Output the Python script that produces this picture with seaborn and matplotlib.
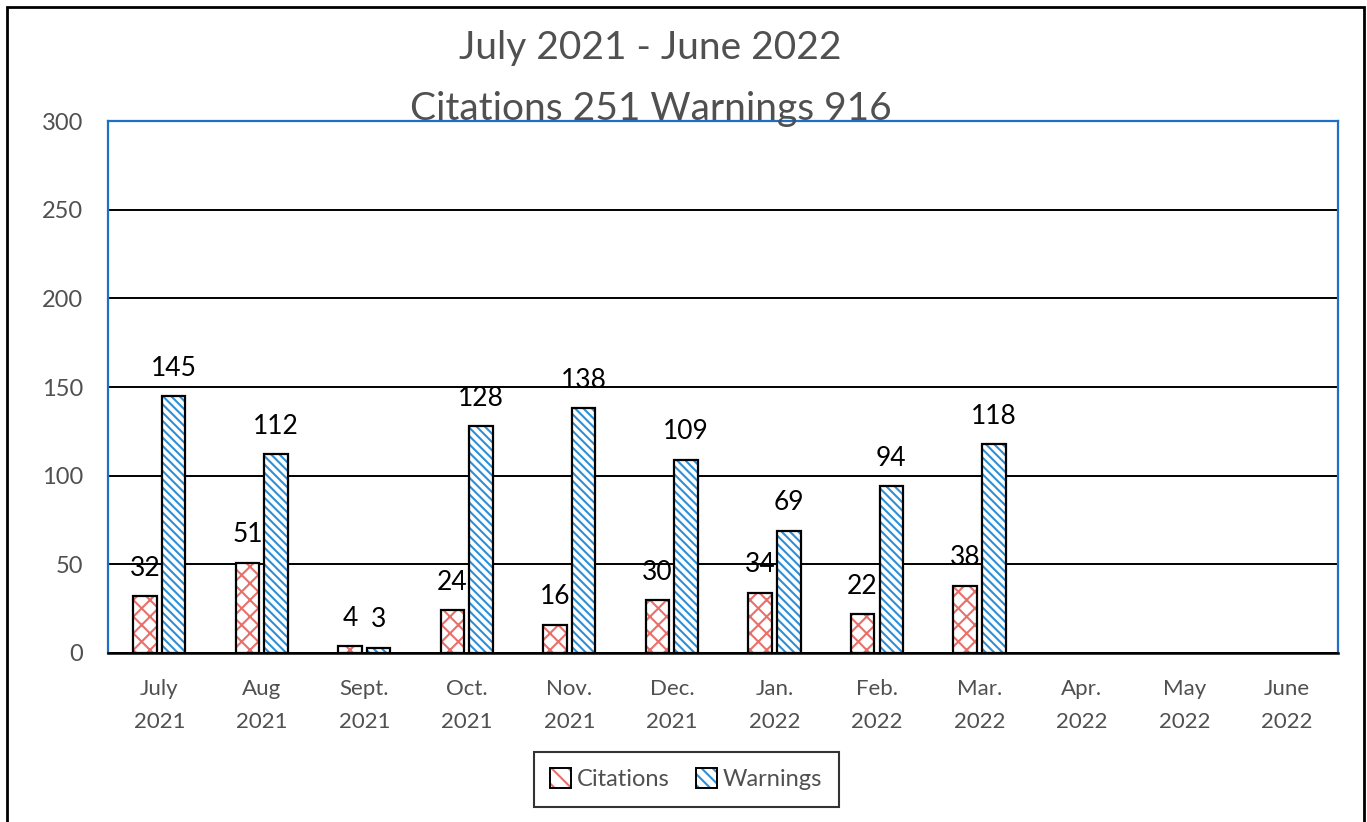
import matplotlib
matplotlib.use("Agg")
import matplotlib.pyplot as plt
from matplotlib.patches import Rectangle, Patch
import pandas as pd
import seaborn as sns

MONTHS = ["July\n2021", "Aug\n2021", "Sept.\n2021", "Oct.\n2021", "Nov.\n2021",
          "Dec.\n2021", "Jan.\n2022", "Feb.\n2022", "Mar.\n2022", "Apr.\n2022",
          "May\n2022", "June\n2022"]
CITATIONS = [32, 51, 4, 24, 16, 30, 34, 22, 38, None, None, None]
WARNINGS = [145, 112, 3, 128, 138, 109, 69, 94, 118, None, None, None]
SERIES = ["Citations", "Warnings"]
TITLE = "July 2021 - June 2022\nCitations 251 Warnings 916"

HATCH_COLORS = {"Citations": "#e8706a", "Warnings": "#2e8fd6"}
HATCHES = {"Citations": "xx", "Warnings": "\\\\\\\\"}
LEGEND_HATCHES = {"Citations": "\\\\", "Warnings": "\\\\\\"}
TEXT_GREY = "#505050"

df = pd.DataFrame({
    "month": MONTHS * 2,
    "series": ["Citations"] * len(MONTHS) + ["Warnings"] * len(MONTHS),
    "value": CITATIONS + WARNINGS,
})

sns.set_style("white")
plt.rcParams["font.family"] = ["Lato", "DejaVu Sans"]
plt.rcParams["hatch.linewidth"] = 1.5

fig = plt.figure(figsize=(13.67, 8.22), dpi=100)
ax = fig.add_axes([0.079, 0.2056, 0.900, 0.647])

sns.barplot(data=df, x="month", y="value", hue="series", hue_order=SERIES,
            order=MONTHS, width=0.56, gap=0.18, ax=ax, legend=False,
            palette=["white", "white"], saturation=1)

# hatch in the series colour, black outline drawn on top
for container, name in zip(ax.containers, SERIES):
    for p in container.patches:
        if pd.isna(p.get_height()) or p.get_height() == 0:
            continue
        p.set_facecolor("white")
        p.set_hatch(HATCHES[name])
        p.set_edgecolor(HATCH_COLORS[name])
        p.set_linewidth(0)
        ax.add_patch(Rectangle(p.get_xy(), p.get_width(), p.get_height(),
                               fill=False, edgecolor="black", linewidth=1.6, zorder=3))
    labels = [f"{v:.0f}" if not pd.isna(v) else "" for v in container.datavalues]
    ax.bar_label(container, labels=labels, padding=11, fontsize=19, color="black")

ax.set_ylim(0, 300)
ax.set_xlim(-0.5, len(MONTHS) - 0.5)
ax.set_yticks([0, 50, 100, 150, 200, 250, 300])
ax.yaxis.grid(True, color="black", linewidth=1.4)
ax.set_axisbelow(True)
ax.set_xlabel("")
ax.set_ylabel("")
ax.tick_params(axis="y", labelsize=17, labelcolor=TEXT_GREY, length=0, pad=18)
ax.tick_params(axis="x", labelsize=16, labelcolor=TEXT_GREY, length=0, pad=19)
for t in ax.get_xticklabels():
    t.set_linespacing(1.8)

for side in ["top", "left", "right"]:
    ax.spines[side].set_color("#1f6fc4")
    ax.spines[side].set_linewidth(1.6)
ax.spines["bottom"].set_color("black")
ax.spines["bottom"].set_linewidth(1.8)

fig.text(0.476, 0.963, TITLE, ha="center", va="top", fontsize=28,
         color=TEXT_GREY, linespacing=1.85)

handles = [(Patch(facecolor="white", edgecolor=HATCH_COLORS[s], hatch=LEGEND_HATCHES[s],
                  linewidth=0),
            Patch(fill=False, edgecolor="black", linewidth=1.4)) for s in SERIES]
leg = fig.legend(handles, SERIES, loc="center", bbox_to_anchor=(0.502, 0.052),
                 ncol=2, fontsize=17, frameon=True, fancybox=False,
                 handlelength=0.9, handleheight=0.9, handletextpad=0.25,
                 columnspacing=1.1, borderpad=0.7, borderaxespad=0)
leg.get_frame().set_edgecolor("black")
leg.get_frame().set_linewidth(1.5)
for txt in leg.get_texts():
    txt.set_color(TEXT_GREY)

# outer frame of the page
fig.add_artist(Rectangle((0.005, -0.02), 0.993, 1.011, transform=fig.transFigure,
                         fill=False, edgecolor="black", linewidth=2))

fig.savefig("out.png", dpi=100, facecolor="white")
